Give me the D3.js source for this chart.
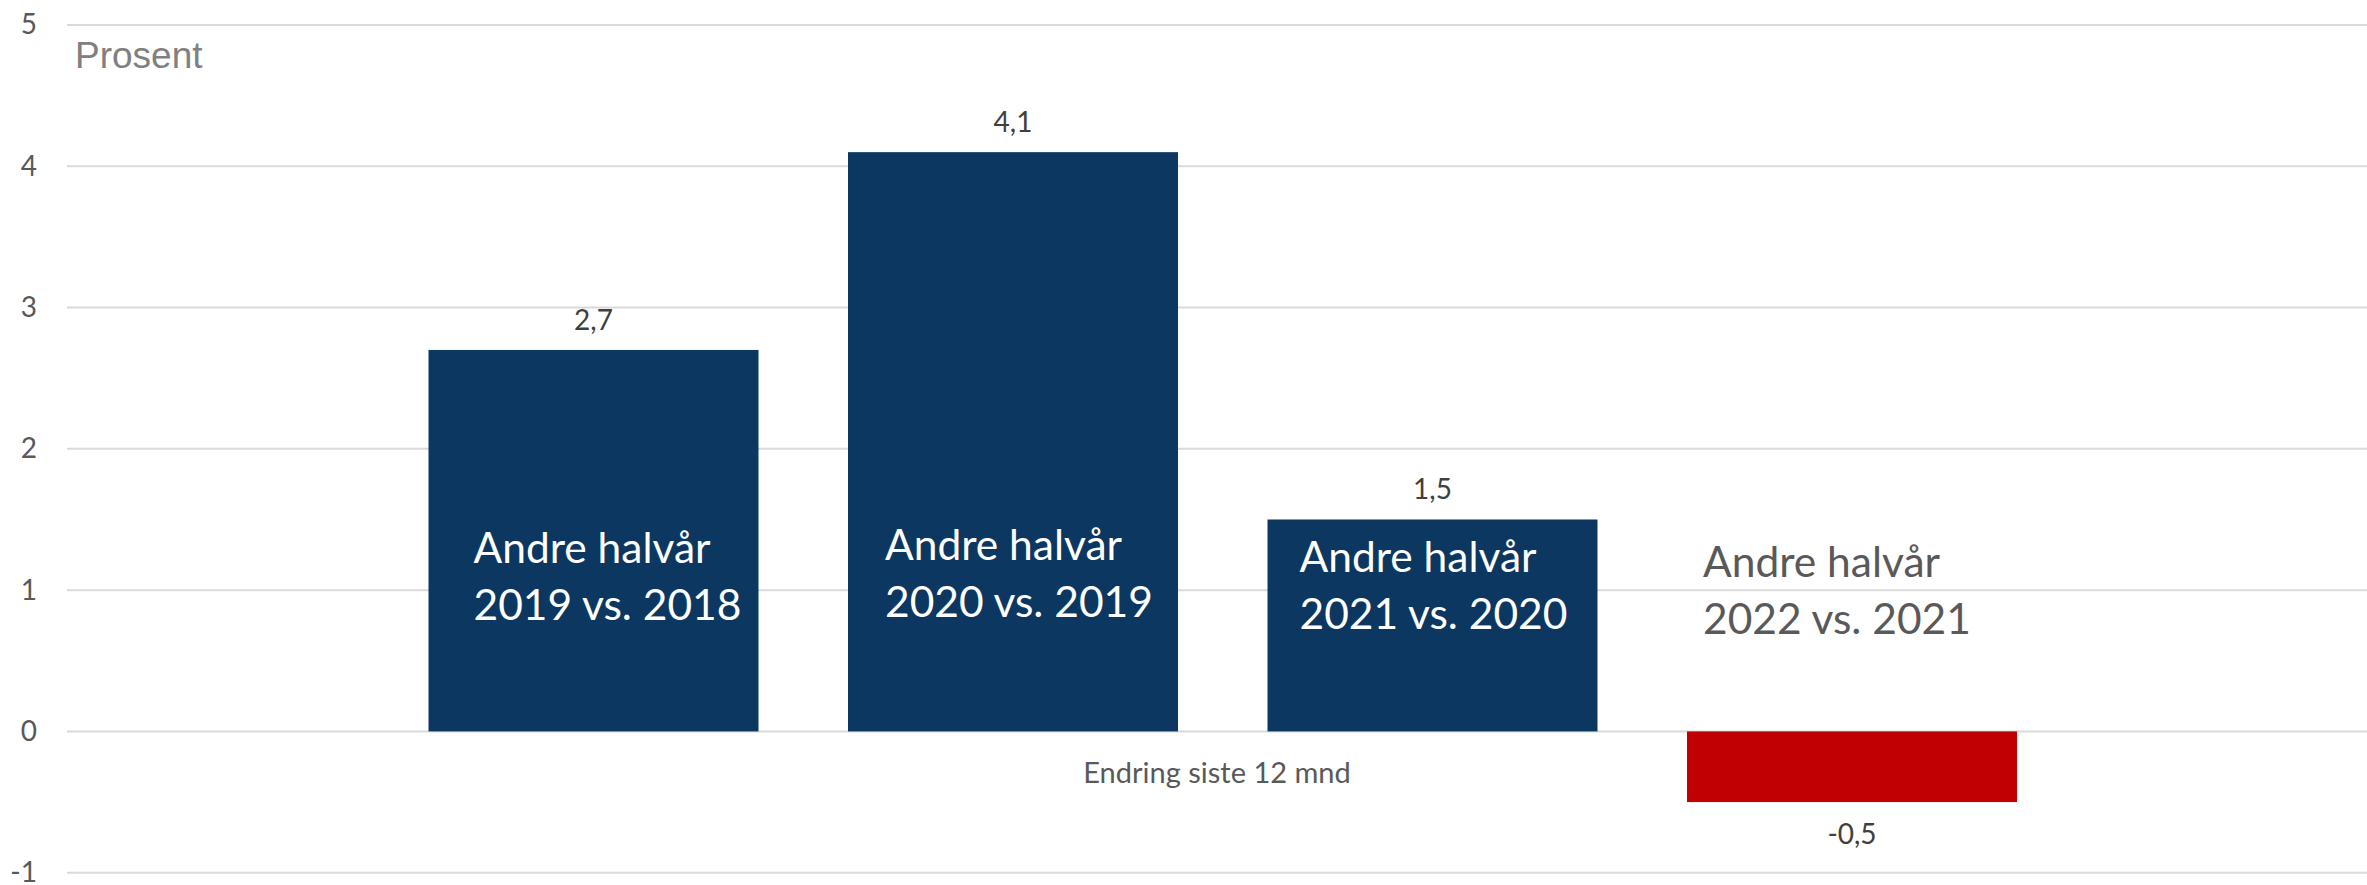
<!DOCTYPE html>
<html>
<head>
<meta charset="utf-8">
<script src="https://cdnjs.cloudflare.com/ajax/libs/d3/7.8.5/d3.min.js"></script>
<style>
  body { margin: 0; background: #fff; }
  svg { display: block; }
</style>
</head>
<body>
<div id="chart"></div>
<script>
// Data
var categories = ["2019 vs. 2018", "2020 vs. 2019", "2021 vs. 2020", "2022 vs. 2021"];
var values = [2.7, 4.1, 1.5, -0.5];
var labelLine1 = ["Andre halvår", "Andre halvår", "Andre halvår", "Andre halvår"];
var yTicks = [-1, 0, 1, 2, 3, 4, 5];
var yTitle = "Prosent";
var xTitle = "Endring siste 12 mnd";

// Layout for the text boxes sitting on the bars (offset from bar left, baseline in axis units)
var labelBoxes = [
    { dx: 45, y: 1.19, color: "#ffffff" },
    { dx: 37, y: 1.21, color: "#ffffff" },
    { dx: 32, y: 1.13, color: "#ffffff" },
    { dx: 16, y: 1.09, color: "#595959" }
];

var svgWidth = 2367;
var svgHeight = 885;
var plotLeft = 67;
var plotRight = 2367;

var svg = d3.select("#chart")
    .append("svg")
    .attr("width", svgWidth)
    .attr("height", svgHeight);

var yScale = d3.scaleLinear()
    .domain([-1, 5])
    .range([872.7, 25]);

var xScale = d3.scaleBand()
    .domain(categories)
    .range([383.75, 2061.75])
    .paddingInner(0.2134)
    .paddingOuter(0.1067);

// gridlines
svg.append("g")
    .selectAll("line")
    .data(yTicks)
    .enter()
    .append("line")
    .attr("x1", plotLeft)
    .attr("x2", plotRight)
    .attr("y1", d => yScale(d))
    .attr("y2", d => yScale(d))
    .attr("stroke", "#d9d9d9")
    .attr("stroke-width", 2);

// y axis labels
var leftAxis = d3.axisLeft(yScale)
    .tickValues(yTicks)
    .tickFormat(d => String(d))
    .tickSize(0)
    .tickPadding(0);

var yAxis = svg.append("g")
    .attr("transform", "translate(37, 0)")
    .call(leftAxis);
yAxis.select(".domain").remove();
yAxis.selectAll("text")
    .attr("fill", "#595959")
    .style("font-family", "Lato, 'Open Sans', sans-serif")
    .style("font-size", "28px");

// bars
svg.append("g")
    .selectAll("rect")
    .data(values)
    .enter()
    .append("rect")
    .attr("x", (d, i) => xScale(categories[i]))
    .attr("width", xScale.bandwidth())
    .attr("y", d => yScale(Math.max(0, d)))
    .attr("height", d => Math.abs(yScale(d) - yScale(0)))
    .attr("fill", d => d < 0 ? "#c00000" : "#0c3761");

// value labels
function fmt(v) {
    return v.toFixed(1).replace(".", ",");
}
svg.append("g")
    .selectAll("text")
    .data(values)
    .enter()
    .append("text")
    .attr("x", (d, i) => xScale(categories[i]) + xScale.bandwidth() / 2)
    .attr("y", d => d >= 0 ? yScale(d) - 20 : yScale(d) + 42)
    .attr("text-anchor", "middle")
    .attr("fill", "#404040")
    .style("font-family", "Lato, 'Open Sans', sans-serif")
    .style("font-size", "28px")
    .text(d => fmt(d));

// category labels in the bars
var catLabels = svg.append("g")
    .selectAll("text")
    .data(categories)
    .enter()
    .append("text")
    .attr("fill", (d, i) => labelBoxes[i].color)
    .style("font-family", "Lato, 'Open Sans', sans-serif")
    .style("font-size", "42.5px");

catLabels.append("tspan")
    .attr("x", (d, i) => xScale(d) + labelBoxes[i].dx)
    .attr("y", (d, i) => yScale(labelBoxes[i].y))
    .text((d, i) => labelLine1[i]);
catLabels.append("tspan")
    .attr("x", (d, i) => xScale(d) + labelBoxes[i].dx)
    .attr("y", (d, i) => yScale(labelBoxes[i].y) + 57)
    .text(d => d);

// y title
svg.append("text")
    .attr("x", 75)
    .attr("y", 68)
    .attr("fill", "#808080")
    .style("font-family", "'Liberation Sans', Arial, sans-serif")
    .style("font-size", "37px")
    .text(yTitle);

// x title
svg.append("text")
    .attr("x", (plotLeft + plotRight) / 2)
    .attr("y", 783)
    .attr("text-anchor", "middle")
    .attr("fill", "#595959")
    .style("font-family", "Lato, 'Open Sans', sans-serif")
    .style("font-size", "29px")
    .text(xTitle);
</script>
</body>
</html>
